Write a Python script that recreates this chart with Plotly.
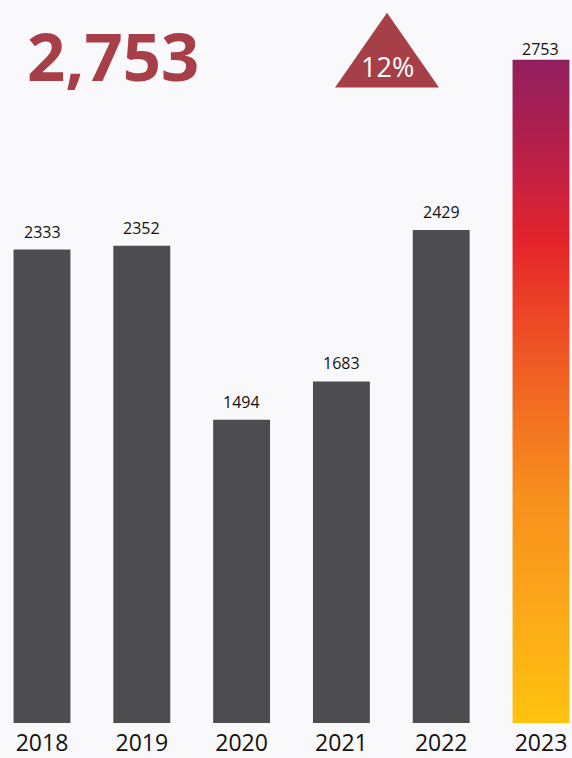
import plotly.graph_objects as go

# ---- data ----
years = ["2018", "2019", "2020", "2021", "2022", "2023"]
values = [2333, 2352, 1494, 1683, 2429, 2753]
change_label = "12%"

# ---- styles ----
BG = "#F9F9FB"
BAR_GREY = "#4D4D4F"
ACCENT = "#A63F48"
GRADIENT = [
    [0.00, "#FFC30E"],
    [0.19, "#FBA51A"],
    [0.34, "#F7901D"],
    [0.49, "#F26A22"],
    [0.62, "#EC4426"],
    [0.73, "#E4232B"],
    [0.86, "#B81F49"],
    [1.00, "#911F5F"],
]
FONT = "Open Sans"
BAR_W = 0.57

idx = list(range(len(years)))
fig = go.Figure()

# grey bars for earlier years
fig.add_trace(go.Bar(
    x=idx[:-1], y=values[:-1], width=BAR_W,
    marker=dict(color=BAR_GREY, line=dict(width=0)),
    hoverinfo="skip",
))

# highlighted latest year bar with vertical gradient (on its own scale)
i = idx[-1]
v = values[-1]
fig.add_trace(go.Scatter(
    x=[i - BAR_W / 2, i + BAR_W / 2, i + BAR_W / 2, i - BAR_W / 2, i - BAR_W / 2],
    y=[0, 0, v, v, 0],
    mode="lines", fill="toself",
    fillgradient=dict(type="vertical", colorscale=GRADIENT),
    line=dict(width=0, color="rgba(0,0,0,0)"),
    yaxis="y2", hoverinfo="skip",
))

annotations = []
for k, (xi, val) in enumerate(zip(idx, values)):
    last = k == len(values) - 1
    annotations.append(dict(
        x=xi, y=val, xref="x", yref="y2" if last else "y",
        text=str(val), showarrow=False, yanchor="bottom",
        yshift=-2 if last else 5,
        font=dict(family=FONT, size=16, color="#111111"),
    ))

# headline number
annotations.append(dict(
    x=25 / 572, y=0.924, xref="paper", yref="paper",
    text=f"<b>{values[-1]:,}</b>", showarrow=False,
    xanchor="left", yanchor="middle",
    font=dict(family=FONT, size=67, color=ACCENT),
))
# change badge text
annotations.append(dict(
    x=0.678, y=0.9075, xref="paper", yref="paper",
    text=change_label, showarrow=False,
    xanchor="center", yanchor="middle",
    font=dict(family=FONT, size=27, color="#FFFFFF"),
))

r0 = -0.4208
fig.update_layout(
    width=572, height=758,
    margin=dict(l=0, r=0, t=0, b=33),
    paper_bgcolor=BG, plot_bgcolor=BG,
    showlegend=False, hovermode=False,
    xaxis=dict(
        range=[r0, r0 + 5.7315], tickvals=idx, ticktext=years,
        showgrid=False, zeroline=False, showline=False, ticks="",
        ticklabelstandoff=4,
        tickfont=dict(family=FONT, size=23, color="#111111"),
        fixedrange=True,
    ),
    yaxis=dict(range=[0, 725 / 0.2035], visible=False, fixedrange=True),
    yaxis2=dict(range=[0, 725 * values[-1] / 665], visible=False,
                overlaying="y", fixedrange=True),
    shapes=[dict(
        type="path", xref="paper", yref="paper",
        path="M 0.5857 0.879 L 0.7675 0.879 L 0.6766 0.9825 Z",
        fillcolor=ACCENT, line=dict(width=0),
    )],
    annotations=annotations,
)

fig.write_html(
    "out.html",
    config={"displayModeBar": False},
    post_script="document.body.style.margin='0';document.body.style.padding='0';"
                "document.body.style.overflow='hidden';"
                "document.documentElement.style.overflow='hidden';",
)
